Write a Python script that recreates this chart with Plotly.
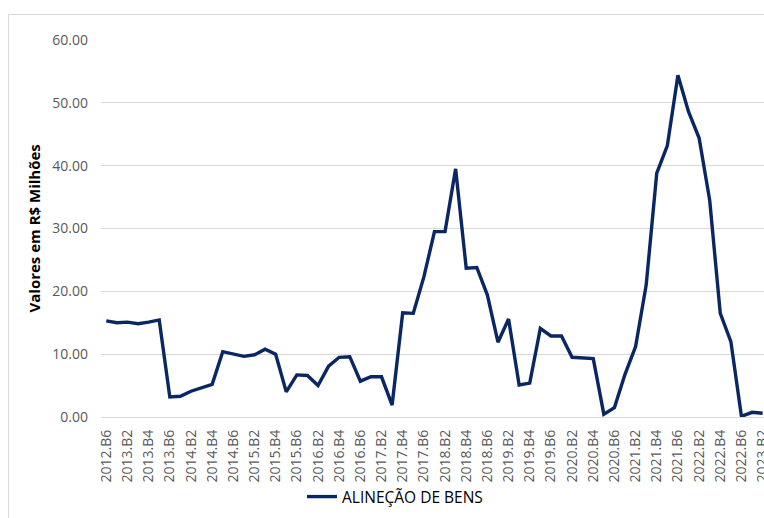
import plotly.graph_objects as go

# Bimonthly periods (B1..B6) from 2012.B6 to 2023.B2
periods = ["2012.B6"] + [f"{y}.B{b}" for y in range(2013, 2023) for b in range(1, 7)] + ["2023.B1", "2023.B2"]

# Values in R$ millions
alienacao_bens = [
    15.3, 15.0, 15.1, 14.85, 15.1, 15.45,          # 2012.B6 - 2013.B5
    3.2, 3.3, 4.1, 4.7, 5.2, 10.4,                 # 2013.B6 - 2014.B5
    10.0, 9.65, 9.9, 10.8, 10.0, 4.0,              # 2014.B6 - 2015.B5
    6.7, 6.6, 5.0, 8.1, 9.5, 9.6,                  # 2015.B6 - 2016.B5
    5.7, 6.4, 6.4, 1.9, 16.6, 16.5,                # 2016.B6 - 2017.B5
    22.3, 29.5, 29.5, 39.5, 23.7, 23.8,            # 2017.B6 - 2018.B5
    19.4, 11.9, 15.6, 5.1, 5.4, 14.1,              # 2018.B6 - 2019.B5
    12.9, 12.9, 9.5, 9.45, 9.3, 0.45,              # 2019.B6 - 2020.B5
    1.5, 6.8, 11.2, 21.0, 38.8, 43.2,              # 2020.B6 - 2021.B5
    54.4, 48.6, 44.4, 34.5, 16.5, 12.0,            # 2021.B6 - 2022.B5
    0.1, 0.75, 0.6,                                # 2022.B6 - 2023.B2
]

tick_labels = periods[::2]
y_ticks = [0, 10, 20, 30, 40, 50, 60]

FONT = "Open Sans"
W, H = 764, 518
ML, MR, MT, MB = 101, 0, 40, 101
PW, PH = W - ML - MR, H - MT - MB


def px_to_paper_x(px):
    return (px - ML) / PW


def px_to_paper_y(py):
    return (H - MB - py) / PH


fig = go.Figure()
fig.add_trace(go.Scatter(
    x=periods,
    y=alienacao_bens,
    mode="lines",
    name="ALINEÇÃO DE BENS",
    line=dict(color="#0a2663", width=3.4),
))

fig.update_layout(
    width=W,
    height=H,
    margin=dict(l=ML, r=MR, t=MT, b=MB, autoexpand=False),
    paper_bgcolor="white",
    plot_bgcolor="white",
    font=dict(family=FONT, color="#595959"),
    showlegend=True,
    legend=dict(
        orientation="h",
        x=px_to_paper_x(302),
        xanchor="left",
        y=px_to_paper_y(497),
        yanchor="middle",
        font=dict(family=FONT, size=15.5, color="#000000"),
        bgcolor="rgba(0,0,0,0)",
    ),
    xaxis=dict(
        type="category",
        categoryorder="array",
        categoryarray=periods,
        range=[-0.5, 62.13],
        tickmode="array",
        tickvals=tick_labels,
        ticktext=tick_labels,
        tickangle=-90,
        tickfont=dict(family=FONT, size=14, color="#595959"),
        showgrid=False,
        showline=False,
        zeroline=False,
        ticks="",
        ticklabelstandoff=9,
    ),
    yaxis=dict(
        range=[0, 60],
        tickmode="array",
        tickvals=y_ticks,
        ticktext=[f"{v:.2f}" for v in y_ticks],
        tickfont=dict(family=FONT, size=14, color="#595959"),
        showgrid=True,
        gridcolor="#d9d9d9",
        gridwidth=1,
        zeroline=True,
        zerolinecolor="#d9d9d9",
        zerolinewidth=1,
        showline=False,
        ticks="",
        ticklabelstandoff=12,
    ),
    annotations=[
        dict(
            text="<b>Valores em R$ Milhões</b>",
            textangle=-90,
            xref="paper",
            yref="paper",
            x=px_to_paper_x(33),
            y=0.5,
            xanchor="center",
            yanchor="middle",
            showarrow=False,
            font=dict(family=FONT, size=15, color="#000000"),
        )
    ],
    shapes=[
        # chart-area frame (top and left edges visible)
        dict(
            type="rect",
            xref="paper",
            yref="paper",
            x0=px_to_paper_x(8.5),
            y0=px_to_paper_y(H + 20),
            x1=px_to_paper_x(W + 20),
            y1=px_to_paper_y(14.5),
            line=dict(color="#d9d9d9", width=1),
            fillcolor="rgba(0,0,0,0)",
            layer="below",
        )
    ],
)

fig.write_html("out.html")
